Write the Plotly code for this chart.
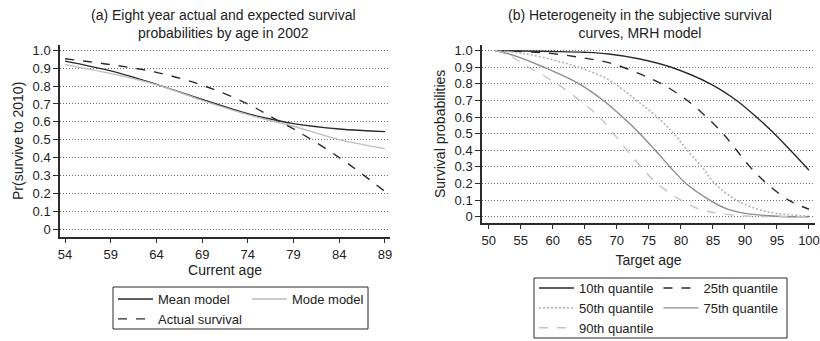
import plotly.graph_objects as go

W, H = 820, 341

# ---------------- Panel (a) data ----------------
age_a = [54, 59, 64, 69, 74, 77, 79, 84, 89]
mean_model = [0.94, 0.885, 0.81, 0.725, 0.645, 0.61, 0.59, 0.56, 0.545]
mode_model = [0.92, 0.87, 0.808, 0.72, 0.64, 0.60, 0.575, 0.50, 0.45]
actual_survival = [0.953, 0.92, 0.877, 0.805, 0.70, 0.615, 0.56, 0.40, 0.21]
ticks_a = [54, 59, 64, 69, 74, 79, 84, 89]

# ---------------- Panel (b) data ----------------
q10_age = [51, 55, 60, 65, 68.75, 73.6, 78.5, 84.6, 88.7, 91.8, 94.6, 97.1, 100]
q10 = [1.0, 0.998, 0.995, 0.99, 0.98, 0.95, 0.9, 0.8, 0.7, 0.6, 0.5, 0.4, 0.28]
q25_age = [51, 55, 60, 65, 69, 73.6, 77, 81, 84, 86.6, 88.7, 90.8, 93.4, 96.8, 100]
q25 = [1.0, 0.995, 0.982, 0.955, 0.925, 0.86, 0.8, 0.7, 0.6, 0.5, 0.4, 0.3, 0.2, 0.1, 0.045]
q50_age = [51, 55, 60, 64, 68.75, 73.1, 76.3, 78.9, 81, 83.3, 85.3, 88.7, 92, 95, 100]
q50 = [1.0, 0.985, 0.945, 0.9, 0.824, 0.7, 0.6, 0.5, 0.4, 0.3, 0.2, 0.1, 0.045, 0.02, 0.003]
q75_age = [51, 54, 58.6, 64.1, 67.9, 70.9, 73.6, 76.0, 78.3, 80.8, 84.5, 87, 90, 95, 100]
q75 = [1.0, 0.97, 0.9, 0.8, 0.7, 0.6, 0.5, 0.4, 0.3, 0.2, 0.1, 0.05, 0.02, 0.003, 0.0]
q90_age = [51, 53, 56.25, 60.7, 64.2, 67.3, 69.5, 71.6, 73.8, 76.3, 80, 83, 86, 90, 95, 100]
q90 = [1.0, 0.975, 0.9, 0.8, 0.7, 0.6, 0.5, 0.4, 0.3, 0.2, 0.1, 0.044, 0.02, 0.005, 0.0, 0.0]
ticks_b = [50, 55, 60, 65, 70, 75, 80, 85, 90, 95, 100]

y_vals = [0, 0.1, 0.2, 0.3, 0.4, 0.5, 0.6, 0.7, 0.8, 0.9, 1.0]
y_text = ["0", "0.1", "0.2", "0.3", "0.4", "0.5", "0.6", "0.7", "0.8", "0.9", "1.0"]

FONT = "Liberation Sans, Arial, Helvetica, sans-serif"
DARK = "#2b2b2b"

fig = go.Figure()

def add(x, y, name, color, dash, width, xa, ya, legend, group):
    fig.add_trace(go.Scatter(
        x=x, y=y, name=name, mode="lines",
        line=dict(color=color, dash=dash, width=width, shape="spline", smoothing=1.0),
        xaxis=xa, yaxis=ya, legend=legend, legendgroup=group,
        hoverinfo="skip"))

add(age_a, mean_model, "Mean model", DARK, "solid", 1.4, "x", "y", "legend", "g1")
add(age_a, mode_model, "Mode model", "#bdbdbd", "solid", 1.4, "x", "y", "legend", "g2")
add(age_a, actual_survival, "Actual survival", DARK, "dash", 1.4, "x", "y", "legend", "g1")

add(q10_age, q10, "10th quantile", DARK, "solid", 1.4, "x2", "y2", "legend2", "h1")
add(q25_age, q25, "25th quantile", DARK, "dash", 1.4, "x2", "y2", "legend2", "h2")
add(q50_age, q50, "50th quantile", "#b0b0b0", "2px,2px", 1.5, "x2", "y2", "legend2", "h1")
add(q75_age, q75, "75th quantile", "#8c8c8c", "solid", 1.4, "x2", "y2", "legend2", "h2")
add(q90_age, q90, "90th quantile", "#c4c4c4", "dash", 1.4, "x2", "y2", "legend2", "h1")

axis_common = dict(
    showline=True, linecolor=DARK, linewidth=1.5, ticks="outside", ticklen=5,
    tickcolor=DARK, tickwidth=1.2, zeroline=False, automargin=False,
    ticklabeloverflow="allow",
    tickfont=dict(size=13, color="#222", family=FONT), fixedrange=True,
)
xcommon = dict(axis_common, showgrid=False, title_font=dict(size=14, color="#222", family=FONT))
ycommon = dict(axis_common, showgrid=True, gridcolor="#6e6e6e", griddash="1px,2px", gridwidth=1,
               tickmode="array", tickvals=y_vals, ticktext=y_text,
               title_font=dict(size=14, color="#222", family=FONT))

def box(x0, y0, x1, y1):
    return dict(type="rect", xref="paper", yref="paper",
                x0=x0 / W, x1=x1 / W, y0=1 - y1 / H, y1=1 - y0 / H,
                line=dict(color=DARK, width=1), fillcolor="rgba(0,0,0,0)", layer="above")

fig.update_layout(
    width=W, height=H,
    margin=dict(l=0, r=0, t=0, b=0, autoexpand=False),
    paper_bgcolor="white", plot_bgcolor="white",
    font=dict(family=FONT, color="#222", size=13),
    showlegend=True,
    xaxis=dict(xcommon, domain=[60 / W, 390 / W], range=[53.45, 89.55],
               tickmode="array", tickvals=ticks_a, title=dict(text="Current age", standoff=4),
               anchor="y"),
    yaxis=dict(ycommon, domain=[1 - 236.7 / H, 1 - 45 / H], range=[-0.043, 1.03],
               title=dict(text="Pr(survive to 2010)", standoff=6), anchor="x"),
    xaxis2=dict(xcommon, domain=[482 / W, 815 / W], range=[48.95, 100.94],
                tickmode="array", tickvals=ticks_b, title=dict(text="Target age", standoff=8),
                anchor="y2"),
    yaxis2=dict(ycommon, domain=[1 - 222.7 / H, 1 - 45 / H], range=[-0.036, 1.034],
                title=dict(text="Survival probabilities", standoff=6), anchor="x2"),
    legend=dict(x=113 / W, y=1 - 284 / H, xanchor="left", yanchor="top",
                orientation="h", traceorder="grouped", borderwidth=0,
                font=dict(size=13, family=FONT, color="#222"), itemwidth=35,
                tracegroupgap=0, bgcolor="rgba(0,0,0,0)"),
    legend2=dict(x=534 / W, y=1 - 273 / H, xanchor="left", yanchor="top",
                 orientation="h", traceorder="grouped", borderwidth=0,
                 font=dict(size=13, family=FONT, color="#222"), itemwidth=35,
                 tracegroupgap=0, bgcolor="rgba(0,0,0,0)"),
    shapes=[box(113, 287, 368, 329), box(534, 278, 787, 338)],
    annotations=[
        dict(text="(a) Eight year actual and expected survival<br>probabilities by age in 2002",
             x=223 / W, y=1 - 5 / H, xref="paper", yref="paper", xanchor="center", yanchor="top",
             showarrow=False, font=dict(size=14, family=FONT, color="#222")),
        dict(text="(b) Heterogeneity in the subjective survival<br>curves, MRH model",
             x=640 / W, y=1 - 5 / H, xref="paper", yref="paper", xanchor="center", yanchor="top",
             showarrow=False, font=dict(size=14, family=FONT, color="#222")),
    ],
)

css = ("var s=document.createElement('style');"
       "s.textContent='html,body{margin:0;padding:0;overflow:hidden;width:820px;height:341px;}';"
       "document.head.appendChild(s);")
fig.write_html("out.html", config={"displayModeBar": False}, post_script=css)
